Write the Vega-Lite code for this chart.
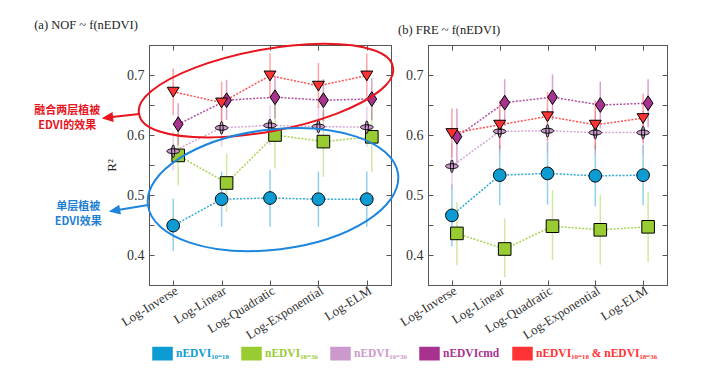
{
  "$schema": "https://vega.github.io/schema/vega-lite/v6.json",
  "padding": {"left": 33, "top": 18, "right": 5, "bottom": 5},
  "background": "white",
  "config": {
    "view": {"stroke": "#555", "strokeWidth": 1},
    "axis": {"labelFont": "Liberation Serif", "titleFont": "Liberation Serif", "labelColor": "#333", "titleColor": "#222", "domainColor": "#555", "tickColor": "#555", "grid": false},
    "title": {"font": "Liberation Serif", "fontSize": 12.5, "fontWeight": "normal", "color": "#222", "anchor": "start", "offset": 8}
  },
  "datasets": {
    "main": [
      {"panel": "NOF", "model": "Log-Inverse", "series": "nEDVI₁₀₋₁₈", "r2": 0.449, "lo": 0.407, "hi": 0.494},
      {"panel": "NOF", "model": "Log-Linear", "series": "nEDVI₁₀₋₁₈", "r2": 0.493, "lo": 0.447, "hi": 0.539},
      {"panel": "NOF", "model": "Log-Quadratic", "series": "nEDVI₁₀₋₁₈", "r2": 0.495, "lo": 0.447, "hi": 0.542},
      {"panel": "NOF", "model": "Log-Exponential", "series": "nEDVI₁₀₋₁₈", "r2": 0.493, "lo": 0.447, "hi": 0.539},
      {"panel": "NOF", "model": "Log-ELM", "series": "nEDVI₁₀₋₁₈", "r2": 0.493, "lo": 0.447, "hi": 0.539},
      {"panel": "NOF", "model": "Log-Inverse", "series": "nEDVI₁₈₋₃₆", "r2": 0.566, "lo": 0.516, "hi": 0.614},
      {"panel": "NOF", "model": "Log-Linear", "series": "nEDVI₁₈₋₃₆", "r2": 0.52, "lo": 0.472, "hi": 0.569},
      {"panel": "NOF", "model": "Log-Quadratic", "series": "nEDVI₁₈₋₃₆", "r2": 0.6, "lo": 0.544, "hi": 0.655},
      {"panel": "NOF", "model": "Log-Exponential", "series": "nEDVI₁₈₋₃₆", "r2": 0.589, "lo": 0.53, "hi": 0.64},
      {"panel": "NOF", "model": "Log-ELM", "series": "nEDVI₁₈₋₃₆", "r2": 0.597, "lo": 0.538, "hi": 0.65},
      {"panel": "NOF", "model": "Log-Inverse", "series": "nEDVI₁₀₋₃₆", "r2": 0.573, "lo": 0.54, "hi": 0.606},
      {"panel": "NOF", "model": "Log-Linear", "series": "nEDVI₁₀₋₃₆", "r2": 0.612, "lo": 0.58, "hi": 0.645},
      {"panel": "NOF", "model": "Log-Quadratic", "series": "nEDVI₁₀₋₃₆", "r2": 0.616, "lo": 0.583, "hi": 0.65},
      {"panel": "NOF", "model": "Log-Exponential", "series": "nEDVI₁₀₋₃₆", "r2": 0.614, "lo": 0.58, "hi": 0.648},
      {"panel": "NOF", "model": "Log-ELM", "series": "nEDVI₁₀₋₃₆", "r2": 0.613, "lo": 0.58, "hi": 0.647},
      {"panel": "NOF", "model": "Log-Inverse", "series": "nEDVIcmd", "r2": 0.618, "lo": 0.583, "hi": 0.653},
      {"panel": "NOF", "model": "Log-Linear", "series": "nEDVIcmd", "r2": 0.658, "lo": 0.625, "hi": 0.692},
      {"panel": "NOF", "model": "Log-Quadratic", "series": "nEDVIcmd", "r2": 0.663, "lo": 0.628, "hi": 0.698},
      {"panel": "NOF", "model": "Log-Exponential", "series": "nEDVIcmd", "r2": 0.658, "lo": 0.623, "hi": 0.693},
      {"panel": "NOF", "model": "Log-ELM", "series": "nEDVIcmd", "r2": 0.66, "lo": 0.625, "hi": 0.695},
      {"panel": "NOF", "model": "Log-Inverse", "series": "nEDVI₁₀₋₁₈ & nEDVI₁₈₋₃₆", "r2": 0.672, "lo": 0.633, "hi": 0.711},
      {"panel": "NOF", "model": "Log-Linear", "series": "nEDVI₁₀₋₁₈ & nEDVI₁₈₋₃₆", "r2": 0.654, "lo": 0.62, "hi": 0.689},
      {"panel": "NOF", "model": "Log-Quadratic", "series": "nEDVI₁₀₋₁₈ & nEDVI₁₈₋₃₆", "r2": 0.699, "lo": 0.662, "hi": 0.736},
      {"panel": "NOF", "model": "Log-Exponential", "series": "nEDVI₁₀₋₁₈ & nEDVI₁₈₋₃₆", "r2": 0.682, "lo": 0.645, "hi": 0.72},
      {"panel": "NOF", "model": "Log-ELM", "series": "nEDVI₁₀₋₁₈ & nEDVI₁₈₋₃₆", "r2": 0.699, "lo": 0.662, "hi": 0.736},
      {"panel": "FRE", "model": "Log-Inverse", "series": "nEDVI₁₀₋₁₈", "r2": 0.466, "lo": 0.414, "hi": 0.518},
      {"panel": "FRE", "model": "Log-Linear", "series": "nEDVI₁₀₋₁₈", "r2": 0.533, "lo": 0.483, "hi": 0.583},
      {"panel": "FRE", "model": "Log-Quadratic", "series": "nEDVI₁₀₋₁₈", "r2": 0.536, "lo": 0.484, "hi": 0.588},
      {"panel": "FRE", "model": "Log-Exponential", "series": "nEDVI₁₀₋₁₈", "r2": 0.532, "lo": 0.481, "hi": 0.583},
      {"panel": "FRE", "model": "Log-ELM", "series": "nEDVI₁₀₋₁₈", "r2": 0.533, "lo": 0.483, "hi": 0.583},
      {"panel": "FRE", "model": "Log-Inverse", "series": "nEDVI₁₈₋₃₆", "r2": 0.436, "lo": 0.383, "hi": 0.488},
      {"panel": "FRE", "model": "Log-Linear", "series": "nEDVI₁₈₋₃₆", "r2": 0.41, "lo": 0.363, "hi": 0.461},
      {"panel": "FRE", "model": "Log-Quadratic", "series": "nEDVI₁₈₋₃₆", "r2": 0.448, "lo": 0.392, "hi": 0.508},
      {"panel": "FRE", "model": "Log-Exponential", "series": "nEDVI₁₈₋₃₆", "r2": 0.442, "lo": 0.384, "hi": 0.5},
      {"panel": "FRE", "model": "Log-ELM", "series": "nEDVI₁₈₋₃₆", "r2": 0.447, "lo": 0.388, "hi": 0.505},
      {"panel": "FRE", "model": "Log-Inverse", "series": "nEDVI₁₀₋₃₆", "r2": 0.548, "lo": 0.51, "hi": 0.586},
      {"panel": "FRE", "model": "Log-Linear", "series": "nEDVI₁₀₋₃₆", "r2": 0.606, "lo": 0.57, "hi": 0.642},
      {"panel": "FRE", "model": "Log-Quadratic", "series": "nEDVI₁₀₋₃₆", "r2": 0.607, "lo": 0.57, "hi": 0.644},
      {"panel": "FRE", "model": "Log-Exponential", "series": "nEDVI₁₀₋₃₆", "r2": 0.604, "lo": 0.568, "hi": 0.64},
      {"panel": "FRE", "model": "Log-ELM", "series": "nEDVI₁₀₋₃₆", "r2": 0.604, "lo": 0.568, "hi": 0.64},
      {"panel": "FRE", "model": "Log-Inverse", "series": "nEDVIcmd", "r2": 0.597, "lo": 0.552, "hi": 0.644},
      {"panel": "FRE", "model": "Log-Linear", "series": "nEDVIcmd", "r2": 0.654, "lo": 0.615, "hi": 0.693},
      {"panel": "FRE", "model": "Log-Quadratic", "series": "nEDVIcmd", "r2": 0.663, "lo": 0.625, "hi": 0.701},
      {"panel": "FRE", "model": "Log-Exponential", "series": "nEDVIcmd", "r2": 0.65, "lo": 0.611, "hi": 0.689},
      {"panel": "FRE", "model": "Log-ELM", "series": "nEDVIcmd", "r2": 0.653, "lo": 0.613, "hi": 0.693},
      {"panel": "FRE", "model": "Log-Inverse", "series": "nEDVI₁₀₋₁₈ & nEDVI₁₈₋₃₆", "r2": 0.603, "lo": 0.562, "hi": 0.644},
      {"panel": "FRE", "model": "Log-Linear", "series": "nEDVI₁₀₋₁₈ & nEDVI₁₈₋₃₆", "r2": 0.617, "lo": 0.577, "hi": 0.657},
      {"panel": "FRE", "model": "Log-Quadratic", "series": "nEDVI₁₀₋₁₈ & nEDVI₁₈₋₃₆", "r2": 0.631, "lo": 0.59, "hi": 0.672},
      {"panel": "FRE", "model": "Log-Exponential", "series": "nEDVI₁₀₋₁₈ & nEDVI₁₈₋₃₆", "r2": 0.617, "lo": 0.576, "hi": 0.658},
      {"panel": "FRE", "model": "Log-ELM", "series": "nEDVI₁₀₋₁₈ & nEDVI₁₈₋₃₆", "r2": 0.628, "lo": 0.587, "hi": 0.669}
    ]
  },
  "bounds": "flush",
  "spacing": 37,
  "hconcat": [
    {
      "width": 242,
      "height": 240,
      "title": {"text": "(a) NOF ~ f(nEDVI)"},
      "layer": [
        {
          "data": {"name": "main"},
          "transform": [{"filter": "datum.panel == 'NOF'"}],
          "mark": {"type": "rule", "strokeWidth": 1.5, "opacity": 0.45, "xOffset": {"expr": "datum.series == 'nEDVI₁₈₋₃₆' || datum.series == 'nEDVIcmd' ? 5 : 0"}},
          "encoding": {
            "x": {"field": "model", "type": "nominal", "sort": ["Log-Inverse", "Log-Linear", "Log-Quadratic", "Log-Exponential", "Log-ELM"], "scale": {"type": "point", "padding": 0.5},
              "axis": {"orient": "bottom", "title": null, "labelAngle": -32, "labelAlign": "right", "labelBaseline": "top", "tickSize": -5, "labelPadding": 4, "labelFontSize": 13}},
            "y": {"field": "lo", "type": "quantitative", "scale": {"domain": [0.35, 0.75], "nice": false, "zero": false},
              "axis": {"orient": "left", "title": "R²", "values": [0.4, 0.45, 0.5, 0.55, 0.6, 0.65, 0.7], "labelExpr": "round(datum.value*100) % 10 == 0 ? format(datum.value, '.1f') : ''", "tickSize": -5, "labelPadding": 10, "labelFontSize": 14, "titleFontSize": 13, "titleFontWeight": "normal", "titlePadding": 8}},
            "y2": {"field": "hi"},
            "color": {"field": "series", "type": "nominal",
              "scale": {"domain": ["nEDVI₁₀₋₁₈", "nEDVI₁₈₋₃₆", "nEDVI₁₀₋₃₆", "nEDVIcmd", "nEDVI₁₀₋₁₈ & nEDVI₁₈₋₃₆"], "range": ["#0c9bd2", "#99cc33", "#cc99cc", "#a8338f", "#ff3333"]},
              "legend": {"orient": "none", "legendX": 3, "legendY": 298, "direction": "horizontal", "columns": 5, "columnPadding": 10, "title": null,
                "symbolType": "M -1 -0.65 L 1 -0.65 L 1 0.65 L -1 0.65 Z", "symbolSize": 361, "symbolStrokeColor": "#222", "symbolStrokeWidth": 1.5, "symbolOpacity": 1,
                "labelFont": "Liberation Serif", "labelFontWeight": "bold", "labelFontSize": 11.5, "labelOffset": 3,
                "encode": {
                  "labels": {"update": {"fill": {"scale": "color", "field": "value"}}},
                  "symbols": {"update": {"fill": {"scale": "color", "field": "value"}, "stroke": {"value": "#222"}, "strokeWidth": {"value": 1.5}, "opacity": {"value": 1}, "strokeOpacity": {"value": 1}, "fillOpacity": {"value": 1}}}
                }}
            }
          }
        },
        {
          "data": {"name": "main"},
          "transform": [{"filter": "datum.panel == 'NOF'"}],
          "mark": {"type": "line", "strokeDash": [2, 1.5], "strokeWidth": 1.5, "opacity": 0.85, "xOffset": {"expr": "datum.series == 'nEDVI₁₈₋₃₆' || datum.series == 'nEDVIcmd' ? 5 : 0"}},
          "encoding": {
            "x": {"field": "model", "type": "nominal", "sort": ["Log-Inverse", "Log-Linear", "Log-Quadratic", "Log-Exponential", "Log-ELM"],
              "axis": {"orient": "top", "title": null, "labels": false, "tickSize": -5}},
            "y": {"field": "r2", "type": "quantitative",
              "axis": {"orient": "right", "title": null, "labels": false, "values": [0.4, 0.45, 0.5, 0.55, 0.6, 0.65, 0.7], "tickSize": -5}},
            "color": {"field": "series", "type": "nominal"}
          }
        },
        {
          "data": {"name": "main"},
          "transform": [{"filter": "datum.panel == 'NOF'"}, {"calculate": "'m:' + datum.series", "as": "marker"}],
          "mark": {"type": "point", "filled": true, "size": 196, "stroke": "black", "strokeWidth": 1, "opacity": 1, "xOffset": {"expr": "datum.series == 'nEDVI₁₈₋₃₆' || datum.series == 'nEDVIcmd' ? 5 : 0"}},
          "encoding": {
            "x": {"field": "model", "type": "nominal", "sort": ["Log-Inverse", "Log-Linear", "Log-Quadratic", "Log-Exponential", "Log-ELM"], "axis": null},
            "y": {"field": "r2", "type": "quantitative", "axis": null},
            "color": {"field": "series", "type": "nominal", "legend": null},
            "shape": {"field": "marker", "type": "nominal", "legend": null,
              "scale": {"domain": ["m:nEDVI₁₀₋₁₈", "m:nEDVI₁₈₋₃₆", "m:nEDVI₁₀₋₃₆", "m:nEDVIcmd", "m:nEDVI₁₀₋₁₈ & nEDVI₁₈₋₃₆"],
                "range": ["M -0.9 0 A 0.9 0.9 0 1 1 0.9 0 A 0.9 0.9 0 1 1 -0.9 0 Z", "M -0.9 -0.9 L 0.9 -0.9 L 0.9 0.9 L -0.9 0.9 Z", "M -0.9 0 A 0.9 0.35 0 1 1 0.9 0 A 0.9 0.35 0 1 1 -0.9 0 Z M 0 -0.9 A 0.22 0.9 0 1 1 0 0.9 A 0.22 0.9 0 1 1 0 -0.9 Z", "M 0 -1.05 L 0.7 0 L 0 1.05 L -0.7 0 Z", "M -0.85 -0.65 L 0.85 -0.65 L 0 0.75 Z"]}}
          }
        },
        {
          "data": {"values": [{"model": "Log-Quadratic", "v": 0.674}]},
          "mark": {"type": "point", "shape": "M -130.8 23.5 A 129 40 -10.5 1 1 122.8 -23.5 A 129 40 -10.5 1 1 -130.8 23.5 Z", "size": 4, "filled": false, "stroke": "#e8141e", "strokeWidth": 2, "opacity": 1},
          "encoding": {
            "x": {"field": "model", "type": "nominal", "sort": ["Log-Inverse", "Log-Linear", "Log-Quadratic", "Log-Exponential", "Log-ELM"], "axis": null},
            "y": {"field": "v", "type": "quantitative", "axis": null}
          }
        },
        {
          "data": {"values": [{"model": "Log-Quadratic", "v": 0.509}]},
          "mark": {"type": "point", "shape": "M -122.1 15.4 A 126 60 -7 1 1 128.1 -15.4 A 126 60 -7 1 1 -122.1 15.4 Z", "size": 4, "filled": false, "stroke": "#1e86dc", "strokeWidth": 2, "opacity": 1},
          "encoding": {
            "x": {"field": "model", "type": "nominal", "sort": ["Log-Inverse", "Log-Linear", "Log-Quadratic", "Log-Exponential", "Log-ELM"], "axis": null},
            "y": {"field": "v", "type": "quantitative", "axis": null}
          }
        },
        {
          "data": {"values": [{"model": "Log-Inverse", "v": 0.64}]},
          "mark": {"type": "point", "shape": "M -34 3 L -61 6.1 M -69 7 L -60.7 9.6 L -61.5 2.6 Z", "size": 4, "filled": true, "fill": "#e8141e", "stroke": "#e8141e", "strokeWidth": 2, "opacity": 1},
          "encoding": {
            "x": {"field": "model", "type": "nominal", "sort": ["Log-Inverse", "Log-Linear", "Log-Quadratic", "Log-Exponential", "Log-ELM"], "axis": null},
            "y": {"field": "v", "type": "quantitative", "axis": null}
          }
        },
        {
          "data": {"values": [{"model": "Log-Inverse", "v": 0.5}]},
          "mark": {"type": "point", "shape": "M -25 10 L -54 14.7 M -62 16 L -53.5 18.2 L -54.7 11.3 Z", "size": 4, "filled": true, "fill": "#1e86dc", "stroke": "#1e86dc", "strokeWidth": 2, "opacity": 1},
          "encoding": {
            "x": {"field": "model", "type": "nominal", "sort": ["Log-Inverse", "Log-Linear", "Log-Quadratic", "Log-Exponential", "Log-ELM"], "axis": null},
            "y": {"field": "v", "type": "quantitative", "axis": null}
          }
        },
        {
          "data": {"values": [{"model": "Log-Inverse", "v": 0.6395, "note": "融合两层植被"}, {"model": "Log-Inverse", "v": 0.6145, "note": "EDVI的效果"}]},
          "mark": {"type": "text", "dx": -106, "align": "center", "baseline": "middle", "font": "Noto Sans CJK SC", "fontWeight": "bold", "fontSize": 11, "color": "#e8141e"},
          "encoding": {
            "x": {"field": "model", "type": "nominal", "sort": ["Log-Inverse", "Log-Linear", "Log-Quadratic", "Log-Exponential", "Log-ELM"], "axis": null},
            "y": {"field": "v", "type": "quantitative", "axis": null},
            "text": {"field": "note"}
          }
        },
        {
          "data": {"values": [{"model": "Log-Inverse", "v": 0.4795, "note": "单层植被"}, {"model": "Log-Inverse", "v": 0.4545, "note": "EDVI效果"}]},
          "mark": {"type": "text", "dx": -95, "align": "center", "baseline": "middle", "font": "Noto Sans CJK SC", "fontWeight": "bold", "fontSize": 11, "color": "#1e7fd4"},
          "encoding": {
            "x": {"field": "model", "type": "nominal", "sort": ["Log-Inverse", "Log-Linear", "Log-Quadratic", "Log-Exponential", "Log-ELM"], "axis": null},
            "y": {"field": "v", "type": "quantitative", "axis": null},
            "text": {"field": "note"}
          }
        }
      ],
      "resolve": {"axis": {"x": "independent", "y": "independent"}}
    },
    {
      "width": 239,
      "height": 240,
      "title": {"text": "(b) FRE ~ f(nEDVI)"},
      "layer": [
        {
          "data": {"name": "main"},
          "transform": [{"filter": "datum.panel == 'FRE'"}],
          "mark": {"type": "rule", "strokeWidth": 1.5, "opacity": 0.45, "xOffset": {"expr": "datum.series == 'nEDVI₁₈₋₃₆' || datum.series == 'nEDVIcmd' ? 5 : 0"}},
          "encoding": {
            "x": {"field": "model", "type": "nominal", "sort": ["Log-Inverse", "Log-Linear", "Log-Quadratic", "Log-Exponential", "Log-ELM"], "scale": {"type": "point", "padding": 0.5},
              "axis": {"orient": "bottom", "title": null, "labelAngle": -32, "labelAlign": "right", "labelBaseline": "top", "tickSize": -5, "labelPadding": 4, "labelFontSize": 13}},
            "y": {"field": "lo", "type": "quantitative", "scale": {"domain": [0.35, 0.75], "nice": false, "zero": false},
              "axis": {"orient": "left", "title": null, "values": [0.4, 0.45, 0.5, 0.55, 0.6, 0.65, 0.7], "labelExpr": "round(datum.value*100) % 10 == 0 ? format(datum.value, '.1f') : ''", "tickSize": -5, "labelPadding": 10, "labelFontSize": 14}},
            "y2": {"field": "hi"},
            "color": {"field": "series", "type": "nominal"}
          }
        },
        {
          "data": {"name": "main"},
          "transform": [{"filter": "datum.panel == 'FRE'"}],
          "mark": {"type": "line", "strokeDash": [2, 1.5], "strokeWidth": 1.5, "opacity": 0.85, "xOffset": {"expr": "datum.series == 'nEDVI₁₈₋₃₆' || datum.series == 'nEDVIcmd' ? 5 : 0"}},
          "encoding": {
            "x": {"field": "model", "type": "nominal", "sort": ["Log-Inverse", "Log-Linear", "Log-Quadratic", "Log-Exponential", "Log-ELM"],
              "axis": {"orient": "top", "title": null, "labels": false, "tickSize": -5}},
            "y": {"field": "r2", "type": "quantitative",
              "axis": {"orient": "right", "title": null, "labels": false, "values": [0.4, 0.45, 0.5, 0.55, 0.6, 0.65, 0.7], "tickSize": -5}},
            "color": {"field": "series", "type": "nominal"}
          }
        },
        {
          "data": {"name": "main"},
          "transform": [{"filter": "datum.panel == 'FRE'"}, {"calculate": "'m:' + datum.series", "as": "marker"}],
          "mark": {"type": "point", "filled": true, "size": 196, "stroke": "black", "strokeWidth": 1, "opacity": 1, "xOffset": {"expr": "datum.series == 'nEDVI₁₈₋₃₆' || datum.series == 'nEDVIcmd' ? 5 : 0"}},
          "encoding": {
            "x": {"field": "model", "type": "nominal", "sort": ["Log-Inverse", "Log-Linear", "Log-Quadratic", "Log-Exponential", "Log-ELM"], "axis": null},
            "y": {"field": "r2", "type": "quantitative", "axis": null},
            "color": {"field": "series", "type": "nominal", "legend": null},
            "shape": {"field": "marker", "type": "nominal", "legend": null}
          }
        }
      ],
      "resolve": {"axis": {"x": "independent", "y": "independent"}}
    }
  ]
}
